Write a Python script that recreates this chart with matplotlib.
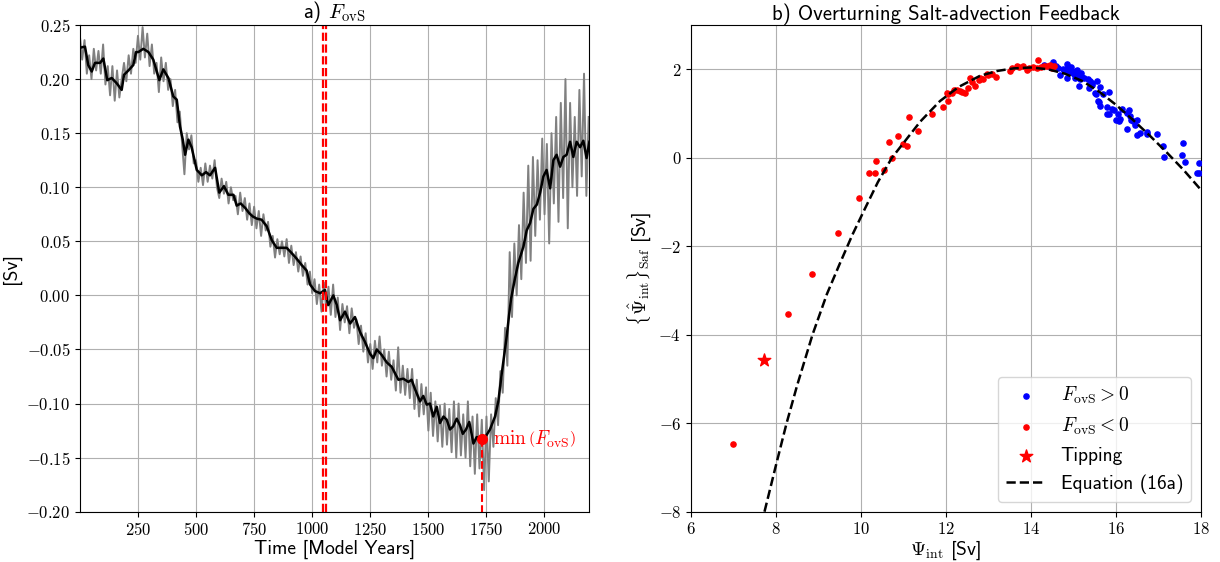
import numpy as np
import matplotlib
matplotlib.use("Agg")
import matplotlib.pyplot as plt
from matplotlib.ticker import FuncFormatter

plt.rcParams['mathtext.fontset'] = 'cm'
plt.rcParams['font.family'] = ['cmss10', 'DejaVu Sans']
plt.rcParams['axes.formatter.use_mathtext'] = True

# ---- panel a: F_ovS time series ----
# yearly model output, sampled every 10 years (t = 1, 11, ..., 2191)
fovs_raw = [
    0.240, 0.218, 0.236, 0.205, 0.222, 0.200, 0.228, 0.208, 0.226, 0.205,
    0.232, 0.195, 0.212, 0.185, 0.212, 0.180, 0.208, 0.183, 0.200, 0.215,
    0.198, 0.222, 0.205, 0.228, 0.215, 0.240, 0.218, 0.248, 0.220, 0.242,
    0.212, 0.232, 0.205, 0.215, 0.188, 0.220, 0.198, 0.215, 0.190, 0.200,
    0.175, 0.190, 0.160, 0.170, 0.140, 0.112, 0.150, 0.135, 0.148, 0.122,
    0.125, 0.105, 0.118, 0.102, 0.122, 0.105, 0.120, 0.108, 0.125, 0.100,
    0.090, 0.108, 0.094, 0.105, 0.085, 0.100, 0.088, 0.092, 0.075, 0.095,
    0.078, 0.090, 0.070, 0.085, 0.065, 0.082, 0.062, 0.078, 0.055, 0.075,
    0.060, 0.068, 0.045, 0.055, 0.035, 0.052, 0.038, 0.050, 0.036, 0.052,
    0.030, 0.046, 0.028, 0.040, 0.022, 0.036, 0.018, 0.030, 0.010, 0.022,
    0.002, 0.015, -0.008, 0.010, -0.015, 0.012, -0.012, 0.008, -0.018, 0.010,
    -0.020, -0.002, -0.032, -0.008, -0.025, -0.010, -0.035, -0.012, -0.030, -0.022,
    -0.045, -0.028, -0.052, -0.035, -0.062, -0.045, -0.068, -0.042, -0.062, -0.038,
    -0.065, -0.050, -0.075, -0.052, -0.078, -0.060, -0.088, -0.048, -0.090, -0.065,
    -0.092, -0.068, -0.095, -0.068, -0.105, -0.078, -0.112, -0.082, -0.110, -0.085,
    -0.125, -0.090, -0.130, -0.098, -0.135, -0.102, -0.140, -0.100, -0.138, -0.105,
    -0.145, -0.098, -0.150, -0.100, -0.148, -0.110, -0.150, -0.098, -0.158, -0.112,
    -0.165, -0.110, -0.160, -0.115, -0.180, -0.112, -0.172, -0.110, -0.140, -0.095,
    -0.120, -0.070, -0.090, -0.030, -0.065, 0.040, -0.020, 0.048, 0.000, 0.065,
    0.015, 0.095, 0.030, 0.120, 0.032, 0.128, 0.055, 0.125, 0.070, 0.145,
    0.075, 0.140, 0.048, 0.150, 0.085, 0.165, 0.068, 0.178, 0.090, 0.200,
    0.062, 0.178, 0.100, 0.165, 0.092, 0.190, 0.110, 0.205, 0.092, 0.165,
]
years_raw = np.arange(1, 1 + 10 * len(fovs_raw), 10)

# running mean
years_smooth = [1, 23, 37, 52, 66, 88, 102, 119, 138, 160, 181, 191, 210, 231, 243, 253,
                274, 296, 317, 343, 360, 382, 403, 418, 432, 444, 454, 468, 482, 504,
                526, 544, 561, 583, 601, 621, 640, 662, 676, 693, 712, 730, 745, 762,
                783, 805, 827, 848, 870, 891, 913, 934, 956, 977, 992, 1013, 1035, 1056,
                1070, 1092, 1107, 1121, 1142, 1164, 1185, 1207, 1228, 1250, 1264, 1279,
                1300, 1322, 1343, 1372, 1393, 1415, 1429, 1444, 1465, 1479, 1494, 1508,
                1522, 1537, 1551, 1566, 1580, 1594, 1608, 1623, 1637, 1649, 1663, 1677,
                1695, 1709, 1723, 1732, 1749, 1766, 1788, 1802, 1817, 1827, 1838, 1849,
                1857, 1874, 1888, 1910, 1924, 1939, 1953, 1968, 1982, 1996, 2010, 2025,
                2039, 2053, 2068, 2082, 2096, 2111, 2125, 2139, 2154, 2168, 2182, 2194]
fovs_smooth = [0.229, 0.230, 0.213, 0.207, 0.215, 0.215, 0.219, 0.199, 0.201, 0.196, 0.190,
               0.204, 0.208, 0.213, 0.225, 0.225, 0.228, 0.225, 0.218, 0.199, 0.209, 0.201,
               0.184, 0.181, 0.156, 0.144, 0.130, 0.144, 0.137, 0.116, 0.111, 0.114, 0.111,
               0.118, 0.095, 0.101, 0.093, 0.093, 0.083, 0.085, 0.081, 0.076, 0.073, 0.071,
               0.070, 0.064, 0.051, 0.044, 0.044, 0.044, 0.039, 0.034, 0.028, 0.023, 0.010,
               0.004, 0.002, 0.005, -0.009, 0.000, -0.009, -0.023, -0.015, -0.026, -0.020,
               -0.034, -0.043, -0.054, -0.058, -0.050, -0.055, -0.062, -0.066, -0.078,
               -0.077, -0.080, -0.078, -0.087, -0.098, -0.093, -0.101, -0.100, -0.112,
               -0.103, -0.118, -0.112, -0.115, -0.124, -0.121, -0.114, -0.120, -0.128,
               -0.124, -0.117, -0.137, -0.131, -0.132, -0.133, -0.130, -0.124, -0.112,
               -0.098, -0.072, -0.056, -0.038, -0.017, -0.003, 0.016, 0.030, 0.045, 0.060,
               0.067, 0.080, 0.084, 0.095, 0.110, 0.116, 0.099, 0.125, 0.130, 0.119, 0.128,
               0.130, 0.142, 0.128, 0.142, 0.137, 0.143, 0.127, 0.142]

tip_years = [1047, 1059]
min_year = 1732
min_value = -0.133

# ---- panel b: salt-advection feedback ----
pos_psi = [14.30, 14.45, 14.53, 14.60, 14.65, 14.69, 14.75, 14.81, 14.85, 14.85, 14.88,
           14.90, 14.92, 14.95, 14.98, 15.00, 15.02, 15.04, 15.06, 15.08, 15.10, 15.12,
           15.14, 15.16, 15.18, 15.20, 15.25, 15.35, 15.36, 15.39, 15.43, 15.43, 15.51,
           15.53, 15.55, 15.59, 15.60, 15.63, 15.63, 15.71, 15.79, 15.80, 15.83, 15.83,
           15.91, 15.95, 16.00, 16.06, 16.07, 16.10, 16.14, 16.26, 16.27, 16.32, 16.34,
           16.37, 16.41, 16.45, 16.49, 16.49, 16.57, 16.73, 16.74, 16.98, 17.12, 17.13,
           17.55, 17.59, 17.62, 17.95, 17.91, 17.97]
pos_saf = [2.10, 2.05, 2.16, 2.08, 2.03, 1.86, 2.00, 1.98, 2.13, 1.81, 2.04,
           1.93, 1.99, 2.05, 1.96, 1.92, 1.90, 1.81, 1.95, 1.98, 1.85, 1.88,
           1.63, 1.77, 1.92, 1.83, 1.80, 1.78, 1.58, 1.73, 1.65, 1.69, 1.47,
           1.45, 1.74, 1.28, 1.26, 1.60, 1.16, 1.43, 1.15, 0.98, 1.48, 0.98,
           1.11, 1.09, 0.86, 0.98, 0.83, 0.88, 1.10, 1.02, 0.66, 1.09, 0.94,
           0.86, 0.83, 0.73, 0.86, 0.52, 0.56, 0.58, 0.53, 0.53, 0.27, 0.01,
           0.06, 0.34, -0.09, -0.13, -0.34, -0.34]

neg_psi = [6.99, 8.28, 8.86, 9.45, 9.96, 10.19, 10.32, 10.36, 10.54, 10.65, 10.74, 10.87,
           10.98, 11.09, 11.13, 11.35, 11.67, 11.94, 12.02, 12.06, 12.06, 12.14, 12.20,
           12.26, 12.33, 12.38, 12.45, 12.53, 12.57, 12.62, 12.69, 12.77, 12.80, 12.88,
           12.96, 13.00, 13.08, 13.18, 13.51, 13.55, 13.67, 13.72, 13.82, 13.90, 13.96,
           14.05, 14.14, 14.18, 14.25, 14.30, 14.38, 14.45, 14.49, 14.55]
neg_saf = [-6.48, -3.54, -2.63, -1.69, -0.92, -0.35, -0.35, -0.08, -0.27, 0.35, -0.01, 0.49,
           0.30, 0.26, 0.91, 0.61, 0.98, 1.14, 1.47, 1.28, 1.43, 1.47, 1.52,
           1.54, 1.50, 1.48, 1.47, 1.58, 1.81, 1.72, 1.63, 1.75, 1.81, 1.77,
           1.90, 1.86, 1.90, 1.83, 1.95, 2.02, 2.07, 2.04, 2.07, 1.99, 2.02,
           2.04, 2.03, 2.22, 2.05, 2.08, 2.07, 2.10, 2.03, 2.08]

tip_psi = 7.72
tip_saf = -4.57

eq_psi = [7.73, 8.0, 8.25, 8.5, 8.86, 9.2, 9.5, 9.8, 10.1, 10.4, 10.73, 11.0, 11.4, 11.86,
          12.3, 12.8, 13.2, 13.6, 14.0, 14.4, 14.8, 15.2, 15.6, 16.0, 16.4, 16.8, 17.2,
          17.6, 18.0]
eq_saf = [-8.0, -6.95, -6.0, -5.14, -4.0, -3.08, -2.40, -1.74, -1.14, -0.55, 0.0, 0.33,
          0.82, 1.28, 1.60, 1.85, 1.96, 2.02, 2.04, 2.00, 1.90, 1.74, 1.50, 1.20, 0.86,
          0.50, 0.12, -0.28, -0.72]


def fmt2(v, pos):
    if abs(v) < 1e-9:
        v = 0.0
    return '$%.2f$' % v


fig = plt.figure(figsize=(12.2, 5.62), dpi=100)
ax1 = fig.add_axes([0.0656, 0.0895, 0.4175, 0.866])
ax2 = fig.add_axes([0.5664, 0.0895, 0.4178, 0.866])

# panel a
ax1.plot(years_raw, fovs_raw, color='gray', lw=1.4)
ax1.plot(years_smooth, fovs_smooth, color='k', lw=1.8)
for t in tip_years:
    ax1.axvline(t, color='r', ls='--', lw=1.6)
ax1.plot([min_year, min_year], [min_value, -0.2], color='r', ls='--', lw=1.5)
ax1.plot(min_year, min_value, 'o', color='r', ms=7)
ax1.annotate(r'$\min\,\left(F_{\rm ovS}\right)$', (min_year, min_value),
             xytext=(8, 0), textcoords='offset points', color='r',
             fontsize=14, va='center', ha='left')
ax1.set_xlim(1.7, 2194)
ax1.set_ylim(-0.2, 0.25)
ax1.set_xticks([250, 500, 750, 1000, 1250, 1500, 1750, 2000])
ax1.set_yticks(np.arange(-0.2, 0.26, 0.05))
ax1.xaxis.set_major_formatter(FuncFormatter(lambda v, p: '$%d$' % v))
ax1.yaxis.set_major_formatter(FuncFormatter(fmt2))
ax1.grid(True, color='#b0b0b0', lw=0.8)
ax1.set_xlabel('Time [Model Years]', fontsize=14, labelpad=1)
ax1.set_ylabel('[Sv]', fontsize=14)
ax1.set_title(r'a) $F_{\rm ovS}$', fontsize=15, pad=3)

# panel b
ax2.scatter(pos_psi, pos_saf, s=14, color='b', label=r'$F_{\rm ovS} > 0$', zorder=3)
ax2.scatter(neg_psi, neg_saf, s=14, color='r', label=r'$F_{\rm ovS} < 0$', zorder=3)
ax2.scatter([tip_psi], [tip_saf], s=90, marker='*', color='r', label='Tipping', zorder=3)
ax2.plot(eq_psi, eq_saf, 'k--', lw=1.8, label='Equation (16a)', zorder=4)
ax2.set_xlim(6, 18)
ax2.set_ylim(-8, 3)
ax2.set_xticks([6, 8, 10, 12, 14, 16, 18])
ax2.set_yticks([-8, -6, -4, -2, 0, 2])
ax2.xaxis.set_major_formatter(FuncFormatter(lambda v, p: '$%d$' % v))
ax2.yaxis.set_major_formatter(FuncFormatter(lambda v, p: '$%d$' % v))
ax2.grid(True, color='#b0b0b0', lw=0.8)
ax2.set_xlabel(r'$\Psi_{\rm int}$ [Sv]', fontsize=14, labelpad=1)
ax2.set_ylabel(r'$\{\hat{\Psi}_{\rm int}\}_{\rm Saf}$ [Sv]', fontsize=14)
ax2.set_title('b) Overturning Salt-advection Feedback', fontsize=15, pad=3)
ax2.legend(loc='lower right', fontsize=14)

for ax in (ax1, ax2):
    ax.tick_params(labelsize=12)

fig.savefig('out.png', dpi=100)
